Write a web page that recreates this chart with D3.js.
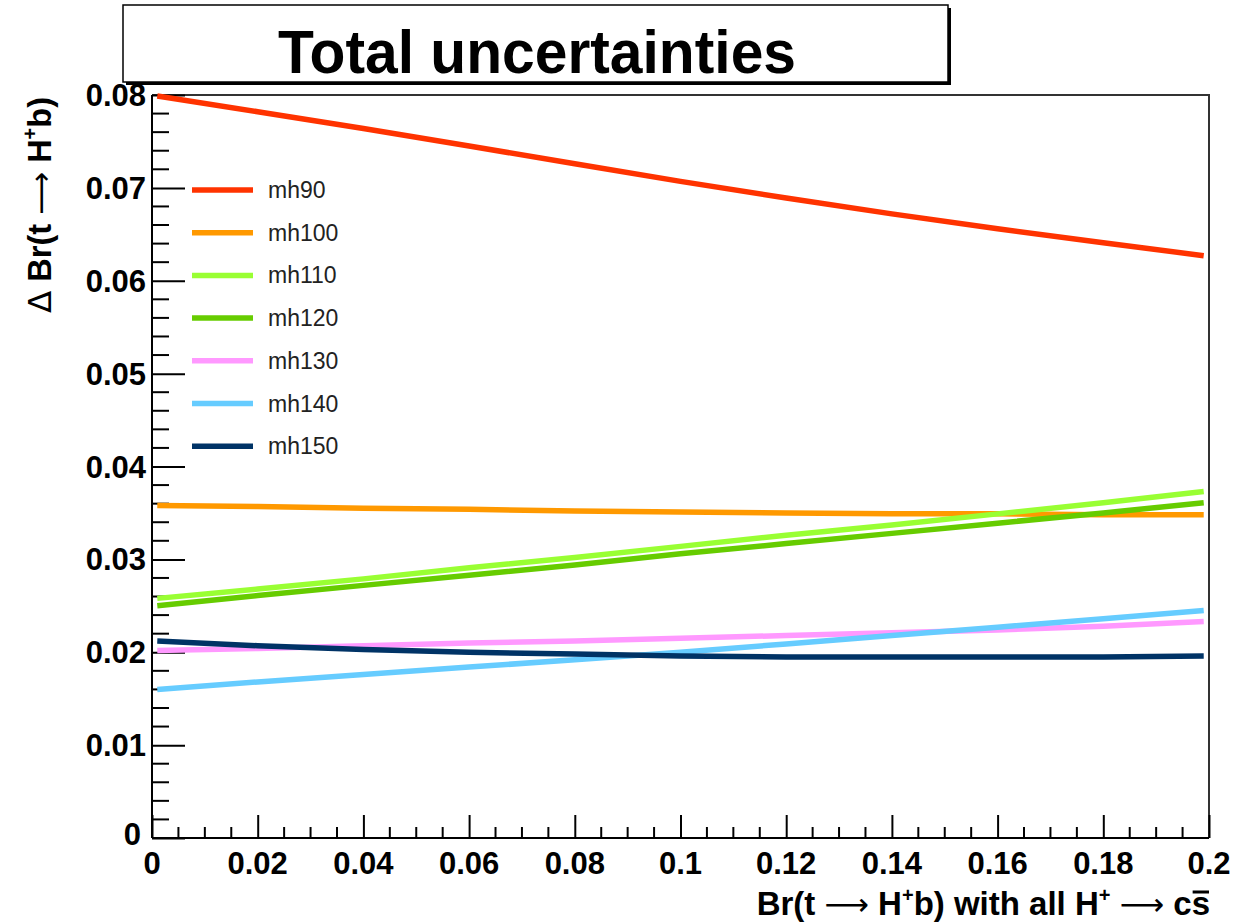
<!DOCTYPE html>
<html>
<head>
<meta charset="utf-8">
<script src="https://cdn.jsdelivr.net/npm/d3@7"></script>
<style>
  html, body { margin: 0; padding: 0; background: #fff; }
  svg { display: block; }
  text { font-family: "Liberation Sans", Arial, Helvetica, sans-serif; }
</style>
</head>
<body>
<div id="chart"></div>
<script>
// Br(t -> H+b) sample points
const brValues = [0.001, 0.02, 0.04, 0.06, 0.08, 0.1, 0.12, 0.14, 0.16, 0.18, 0.199];

// Total uncertainty on Br for each charged Higgs mass hypothesis
const mh90  = [0.0799, 0.0782, 0.0764, 0.0745, 0.0726, 0.0707, 0.0689, 0.0672, 0.0656, 0.0641, 0.0627];
const mh100 = [0.0358, 0.0357, 0.0355, 0.0354, 0.0352, 0.0351, 0.0350, 0.0349, 0.0349, 0.0348, 0.0348];
const mh110 = [0.0258, 0.0268, 0.0279, 0.0291, 0.0302, 0.0314, 0.0326, 0.0337, 0.0349, 0.0361, 0.0373];
const mh120 = [0.0250, 0.0261, 0.0272, 0.0283, 0.0294, 0.0306, 0.0317, 0.0328, 0.0339, 0.0350, 0.0361];
const mh130 = [0.0202, 0.0204, 0.0207, 0.0210, 0.0212, 0.0215, 0.0218, 0.0221, 0.0224, 0.0228, 0.0233];
const mh140 = [0.0160, 0.0168, 0.0176, 0.0184, 0.0192, 0.0200, 0.0209, 0.0218, 0.0227, 0.0236, 0.0245];
const mh150 = [0.0212, 0.0207, 0.0203, 0.0200, 0.0198, 0.0196, 0.0195, 0.0195, 0.0195, 0.0195, 0.0196];

const seriesNames  = ["mh90", "mh100", "mh110", "mh120", "mh130", "mh140", "mh150"];
const seriesValues = [mh90, mh100, mh110, mh120, mh130, mh140, mh150];
const seriesColors = ["#ff3300", "#ff9900", "#99ff33", "#66cc00", "#ff99ff", "#66ccff", "#003366"];

const xTickValues = [0, 0.02, 0.04, 0.06, 0.08, 0.1, 0.12, 0.14, 0.16, 0.18, 0.2];
const yTickValues = [0, 0.01, 0.02, 0.03, 0.04, 0.05, 0.06, 0.07, 0.08];

const W = 1235, H = 922;
const plot = { left: 152, right: 1209, top: 95, bottom: 838 };
const symbolFont = "'DejaVu Sans', sans-serif";

const svg = d3.select("#chart").append("svg")
  .attr("width", W).attr("height", H);

const x = d3.scaleLinear().domain([0, 0.2]).range([plot.left, plot.right]);
const y = d3.scaleLinear().domain([0, 0.08]).range([plot.bottom, plot.top]);

// Frame (top and right edges)
svg.append("path")
  .attr("d", `M${plot.left},${plot.top}H${plot.right}V${plot.bottom}`)
  .attr("fill", "none").attr("stroke", "#333").attr("stroke-width", 2);

// Y axis with ticks pointing into the plot
const yAxis = d3.axisRight(y).tickValues(yTickValues).tickSize(33).tickFormat("");
const gy = svg.append("g").attr("transform", `translate(${plot.left},0)`).call(yAxis);
gy.select(".domain").attr("d", `M0,${plot.top}V${plot.bottom}`).attr("stroke", "#000").attr("stroke-width", 2);
gy.selectAll(".tick line").attr("stroke", "#000").attr("stroke-width", 2);
const yMinor = d3.range(0, 0.0801, 0.002).filter(v => Math.abs(v / 0.01 - Math.round(v / 0.01)) > 1e-6);
gy.selectAll("line.minor").data(yMinor).enter().append("line")
  .attr("class", "minor")
  .attr("x1", 0).attr("x2", 17)
  .attr("y1", d => y(d)).attr("y2", d => y(d))
  .attr("stroke", "#000").attr("stroke-width", 2);

// X axis with ticks pointing up into the plot
const xAxis = d3.axisTop(x).tickValues(xTickValues).tickSize(23).tickFormat("");
const gx = svg.append("g").attr("transform", `translate(0,${plot.bottom})`).call(xAxis);
gx.select(".domain").attr("d", `M${plot.left},0H${plot.right}`).attr("stroke", "#000").attr("stroke-width", 2);
gx.selectAll(".tick line").attr("stroke", "#000").attr("stroke-width", 2);
const xMinor = d3.range(0, 0.2001, 0.005).filter(v => Math.abs(v / 0.02 - Math.round(v / 0.02)) > 1e-6);
gx.selectAll("line.minor").data(xMinor).enter().append("line")
  .attr("class", "minor")
  .attr("x1", d => x(d)).attr("x2", d => x(d))
  .attr("y1", 0).attr("y2", -11)
  .attr("stroke", "#000").attr("stroke-width", 2);

// Tick labels
const fmt = v => (v === 0 ? "0" : String(+v.toFixed(3)));
svg.append("g").selectAll("text").data(yTickValues).enter().append("text")
  .attr("x", d => d === 0 ? 141 : 146)
  .attr("y", d => d === 0 ? y(d) + 7 : y(d) + 11)
  .attr("text-anchor", "end")
  .attr("font-size", 31).attr("font-weight", "bold")
  .text(fmt);
svg.append("g").selectAll("text").data(xTickValues).enter().append("text")
  .attr("x", d => x(d))
  .attr("y", 874)
  .attr("text-anchor", "middle")
  .attr("font-size", 31).attr("font-weight", "bold")
  .text(fmt);

// Curves
const line = d3.line().x(d => x(d[0])).y(d => y(d[1]));
seriesValues.forEach((vals, i) => {
  svg.append("path")
    .datum(brValues.map((b, k) => [b, vals[k]]))
    .attr("d", line)
    .attr("fill", "none")
    .attr("stroke", seriesColors[i])
    .attr("stroke-width", 5.5);
});

// Legend
const legend = svg.append("g");
seriesNames.forEach((name, i) => {
  const ly = 190 + i * 42.7;
  legend.append("line")
    .attr("x1", 192).attr("x2", 253).attr("y1", ly).attr("y2", ly)
    .attr("stroke", seriesColors[i]).attr("stroke-width", 5.5);
  legend.append("text")
    .attr("x", 268).attr("y", ly + 8)
    .attr("font-size", 23)
    .attr("fill", "#222")
    .text(name);
});

// Title box with shadow
svg.append("rect").attr("x", 126).attr("y", 8).attr("width", 825).attr("height", 77)
  .attr("fill", "#000");
svg.append("rect").attr("x", 123).attr("y", 5).attr("width", 825).attr("height", 77)
  .attr("fill", "#fff").attr("stroke", "#000").attr("stroke-width", 1.5);
svg.append("text")
  .attr("x", 537).attr("y", 73)
  .attr("text-anchor", "middle")
  .attr("font-size", 62).attr("font-weight", "bold")
  .attr("textLength", 518).attr("lengthAdjust", "spacingAndGlyphs")
  .text("Total uncertainties");

// Long thin arrow glyph used in the axis titles
function arrow(sel, size) {
  sel.append("tspan")
    .attr("font-weight", "normal").attr("font-family", symbolFont)
    .attr("font-size", size)
    .text("\u27F6");
}

// Y axis title
const yt = svg.append("text")
  .attr("transform", "translate(51,97) rotate(-90)")
  .attr("text-anchor", "end")
  .attr("font-size", 32.5).attr("font-weight", "bold");
yt.append("tspan").attr("font-weight", "normal").attr("font-family", symbolFont).text("\u0394");
yt.append("tspan").text(" Br(t ");
arrow(yt, 30);
yt.append("tspan").text(" H");
yt.append("tspan").attr("font-size", 20).attr("dy", -14).text("+");
yt.append("tspan").attr("dy", 14).text("b)");

// X axis title
const xt = svg.append("text")
  .attr("x", 1210).attr("y", 915)
  .attr("text-anchor", "end")
  .attr("font-size", 33).attr("font-weight", "bold");
xt.append("tspan").text("Br(t ");
arrow(xt, 31);
xt.append("tspan").text(" H");
xt.append("tspan").attr("font-size", 20).attr("dy", -13).text("+");
xt.append("tspan").attr("dy", 13).text("b) with all H");
xt.append("tspan").attr("font-size", 20).attr("dy", -13).text("+");
xt.append("tspan").attr("dy", 13).text(" ");
arrow(xt, 31);
xt.append("tspan").text(" c");
const sBar = xt.append("tspan").text("s");

// Bar over the s (anti-strange quark)
const sBox = sBar.node().getBBox();
svg.append("line")
  .attr("x1", sBox.x + 1).attr("x2", sBox.x + sBox.width - 1)
  .attr("y1", 892).attr("y2", 892)
  .attr("stroke", "#000").attr("stroke-width", 3);
</script>
</body>
</html>
